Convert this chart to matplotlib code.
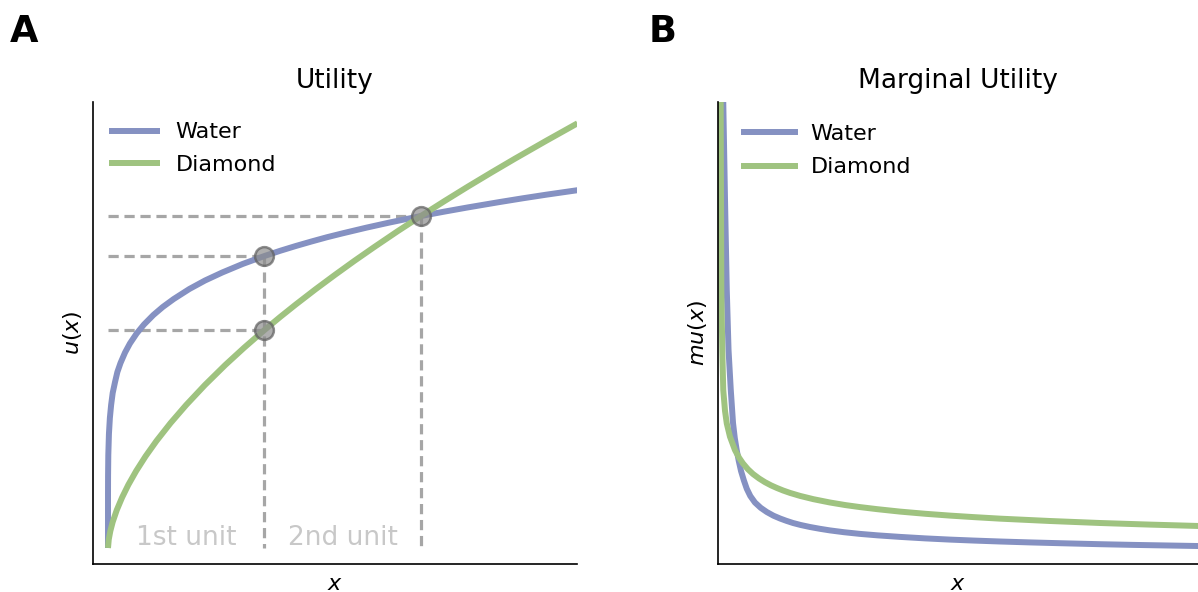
import matplotlib
matplotlib.use("Agg")
import matplotlib.pyplot as plt

# Utility curves (x in "units" of the good)
u_x_water = [0.0, 0.0001, 0.0005, 0.002, 0.006, 0.012, 0.02, 0.03, 0.045, 0.06, 0.08, 0.109,
             0.14, 0.183, 0.23, 0.29, 0.35, 0.42, 0.52, 0.62, 0.73, 0.86, 1.0, 1.1, 1.2,
             1.3, 1.4, 1.5, 1.65, 1.8, 2.0, 2.15, 2.3, 2.5, 2.65, 2.8, 3.0]
u_water = [0.0, 0.53, 0.72, 0.93, 1.14, 1.30, 1.43, 1.55, 1.66, 1.76, 1.85, 1.955,
           2.045, 2.145, 2.235, 2.33, 2.41, 2.49, 2.59, 2.675, 2.755, 2.84, 2.92, 2.972, 3.02,
           3.065, 3.108, 3.147, 3.203, 3.255, 3.32, 3.364, 3.406, 3.459, 3.497, 3.533, 3.578]
u_x_diamond = [0.0, 0.005, 0.015, 0.03, 0.056, 0.09, 0.13, 0.18, 0.24, 0.31, 0.4, 0.5,
               0.62, 0.75, 0.87, 1.0, 1.1, 1.2, 1.325, 1.45, 1.575, 1.7, 1.85, 2.0,
               2.15, 2.3, 2.45, 2.6, 2.8, 3.0]
u_diamond = [0.0, 0.087, 0.17, 0.26, 0.379, 0.505, 0.632, 0.77, 0.917, 1.071, 1.25, 1.431,
             1.631, 1.831, 2.003, 2.18, 2.31, 2.435, 2.586, 2.731, 2.872, 3.008, 3.167, 3.32,
             3.469, 3.614, 3.755, 3.893, 4.072, 4.247]

# unit markers on the utility panel
unit_x = [1.0, 1.0, 2.0]
unit_y = [2.92, 2.18, 3.32]
unit_labels = ["1st unit", "2nd unit"]
unit_label_x = [0.5, 1.5]

# Marginal utility curves
mu_x_water = [0.031, 0.036, 0.047, 0.058, 0.069, 0.083, 0.097, 0.108, 0.120, 0.133,
              0.147, 0.165, 0.183, 0.205, 0.234, 0.27, 0.308, 0.35, 0.391, 0.43,
              0.472, 0.52, 0.578, 0.64, 0.703, 0.79, 0.891, 1.0, 1.141, 1.3,
              1.453, 1.6, 1.766, 1.95, 2.15, 2.391, 2.6, 2.8, 3.0]
mu_water = [4.74, 4.62, 3.64, 2.74, 2.14, 1.74, 1.41, 1.26, 1.14, 1.03,
            0.93, 0.835, 0.752, 0.68, 0.615, 0.562, 0.52, 0.483, 0.455, 0.432,
            0.41, 0.39, 0.37, 0.352, 0.336, 0.318, 0.301, 0.2865, 0.271, 0.256,
            0.244, 0.2345, 0.225, 0.216, 0.2075, 0.198, 0.191, 0.1855, 0.18]
mu_x_diamond = [0.017, 0.020, 0.024, 0.030, 0.036, 0.047, 0.058, 0.078, 0.109, 0.135,
                0.159, 0.19, 0.222, 0.26, 0.297, 0.335, 0.370, 0.41, 0.453, 0.516,
                0.6, 0.703, 0.8, 0.891, 1.0, 1.141, 1.3, 1.453, 1.6, 1.766,
                2.078, 2.391, 2.703, 3.0]
mu_diamond = [4.74, 4.62, 2.74, 2.14, 1.74, 1.53, 1.405, 1.273, 1.14, 1.062,
              1.006, 0.948, 0.90, 0.855, 0.818, 0.786, 0.761, 0.735, 0.711, 0.681,
              0.648, 0.615, 0.589, 0.569, 0.548, 0.524, 0.502, 0.484, 0.469, 0.4535,
              0.43, 0.41, 0.394, 0.3805]

BLUE = '#8591c2'
GREEN = '#9fc380'
GREY = '#a6a6a6'

fig = plt.figure(figsize=(11.98, 5.92), dpi=100)
ax1 = fig.add_axes([93 / 1198, 28 / 592, 484 / 1198, 462.5 / 592])
ax2 = fig.add_axes([717.5 / 1198, 28 / 592, 480 / 1198, 462.5 / 592])

for ax in (ax1, ax2):
    for side in ('top', 'right'):
        ax.spines[side].set_visible(False)
    ax.spines['left'].set_linewidth(1.2)
    ax.spines['bottom'].set_linewidth(1.2)
    ax.set_xticks([])
    ax.set_yticks([])

# --- A: utility
ax1.plot(u_x_water, u_water, color=BLUE, lw=4.3, label='Water', solid_capstyle='butt')
ax1.plot(u_x_diamond, u_diamond, color=GREEN, lw=4.3, label='Diamond', solid_capstyle='butt')

for ux, uy in zip(unit_x, unit_y):
    ax1.plot([0, ux], [uy, uy], color=GREY, lw=2.3, dashes=(3.2, 1.8), zorder=1)
for ux in (1.0, 2.0):
    top = max(y for x, y in zip(unit_x, unit_y) if x == ux)
    ax1.plot([ux, ux], [top, 0], color=GREY, lw=2.3, dashes=(3.2, 1.8), zorder=1)
ax1.plot(unit_x, unit_y, 'o', ms=13.5, mfc='#8c8c8c', mec='#5f5f5f', mew=1.8,
         alpha=0.7, zorder=4)

for lab, lx in zip(unit_labels, unit_label_x):
    ax1.text(lx, -0.03, lab, ha='center', va='bottom', fontsize=19, color='#c8c8c8')

ax1.set_xlim(-0.0958, 2.997)
ax1.set_ylim(-0.16, 4.465)
ax1.set_title('Utility', fontsize=19, pad=10)
ax1.set_xlabel('$x$', fontsize=16, va='center')
ax1.set_ylabel('$u(x)$', fontsize=16, va='center')
ax1.xaxis.set_label_coords(0.5, -0.043)
ax1.yaxis.set_label_coords(-0.043, 0.5)
ax1.legend(loc='upper left', bbox_to_anchor=(0.033, 0.955), frameon=False, fontsize=16,
           handlelength=2.3, handletextpad=0.7, borderpad=0, borderaxespad=0,
           labelspacing=0.56)

# --- B: marginal utility
ax2.plot(mu_x_water, mu_water, color=BLUE, lw=4.3, label='Water')
ax2.plot(mu_x_diamond, mu_diamond, color=GREEN, lw=4.3, label='Diamond')
ax2.set_xlim(0, 3.0)
ax2.set_ylim(0, 4.625)
ax2.set_title('Marginal Utility', fontsize=19, pad=10)
ax2.set_xlabel('$x$', fontsize=16, va='center')
ax2.set_ylabel('$mu(x)$', fontsize=16, va='center')
ax2.xaxis.set_label_coords(0.5, -0.043)
ax2.yaxis.set_label_coords(-0.041, 0.5)
ax2.legend(loc='upper left', bbox_to_anchor=(0.055, 0.951), frameon=False, fontsize=16,
           handlelength=2.3, handletextpad=0.7, borderpad=0, borderaxespad=0,
           labelspacing=0.6)

fig.text(10 / 1198, 1 - 42 / 592, 'A', fontsize=26.5, fontweight='bold', ha='left', va='baseline')
fig.text(649 / 1198, 1 - 42 / 592, 'B', fontsize=26.5, fontweight='bold', ha='left', va='baseline')

fig.savefig('out.png', dpi=100)
